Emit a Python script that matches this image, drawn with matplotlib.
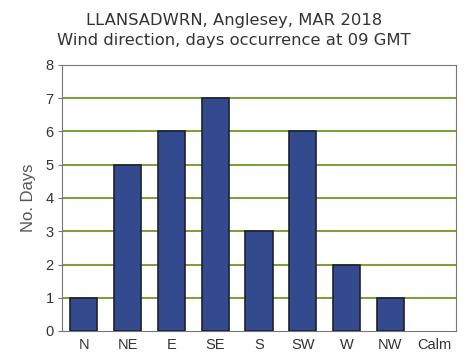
import numpy as np
import matplotlib
matplotlib.use('Agg')
import matplotlib.pyplot as plt

# wind direction counts
directions = ['N', 'NE', 'E', 'SE', 'S', 'SW', 'W', 'NW', 'Calm']
days = [1, 5, 6, 7, 3, 6, 2, 1, 0]

fig = plt.figure(figsize=(4.68, 3.6), dpi=100)
ax = fig.add_axes([62/468, 1 - 331/360, (456-62)/468, (331-65)/360])

x = np.arange(len(directions))
lw = [1.2 if d > 0 else 0 for d in days]
ax.bar(x, days, width=0.62, color='#344a8e', edgecolor='#1f1f2e', linewidth=lw, zorder=3)

ax.set_xlim(-0.5, len(directions) - 0.5)
ax.set_ylim(0, 8)
ax.set_yticks(range(0, 9))
ax.set_xticks(x)
ax.set_xticklabels(directions, family='Liberation Sans')
for lab in ax.get_yticklabels():
    lab.set_family('Liberation Sans')
for y in range(1, 9):
    ax.axhline(y, color='#6b9a22', linewidth=1.3, zorder=1)

for s in ax.spines.values():
    s.set_color('#777777')
ax.tick_params(axis='y', length=3, color='#777777', labelsize=10.5, labelcolor='#333333', pad=3)
ax.tick_params(axis='x', length=0, labelsize=10.5, labelcolor='#333333', pad=5)
ax.set_ylabel('No. Days', fontsize=12, color='#555555', labelpad=7, family='Liberation Sans')

fig.text(0.5, 1 - 20/360, 'LLANSADWRN, Anglesey, MAR 2018', ha='center', va='center',
         fontsize=11.8, color='#333333')
fig.text(0.5, 1 - 40/360, 'Wind direction, days occurrence at 09 GMT', ha='center', va='center',
         fontsize=11.8, color='#333333')

fig.savefig('out.png', dpi=100)
